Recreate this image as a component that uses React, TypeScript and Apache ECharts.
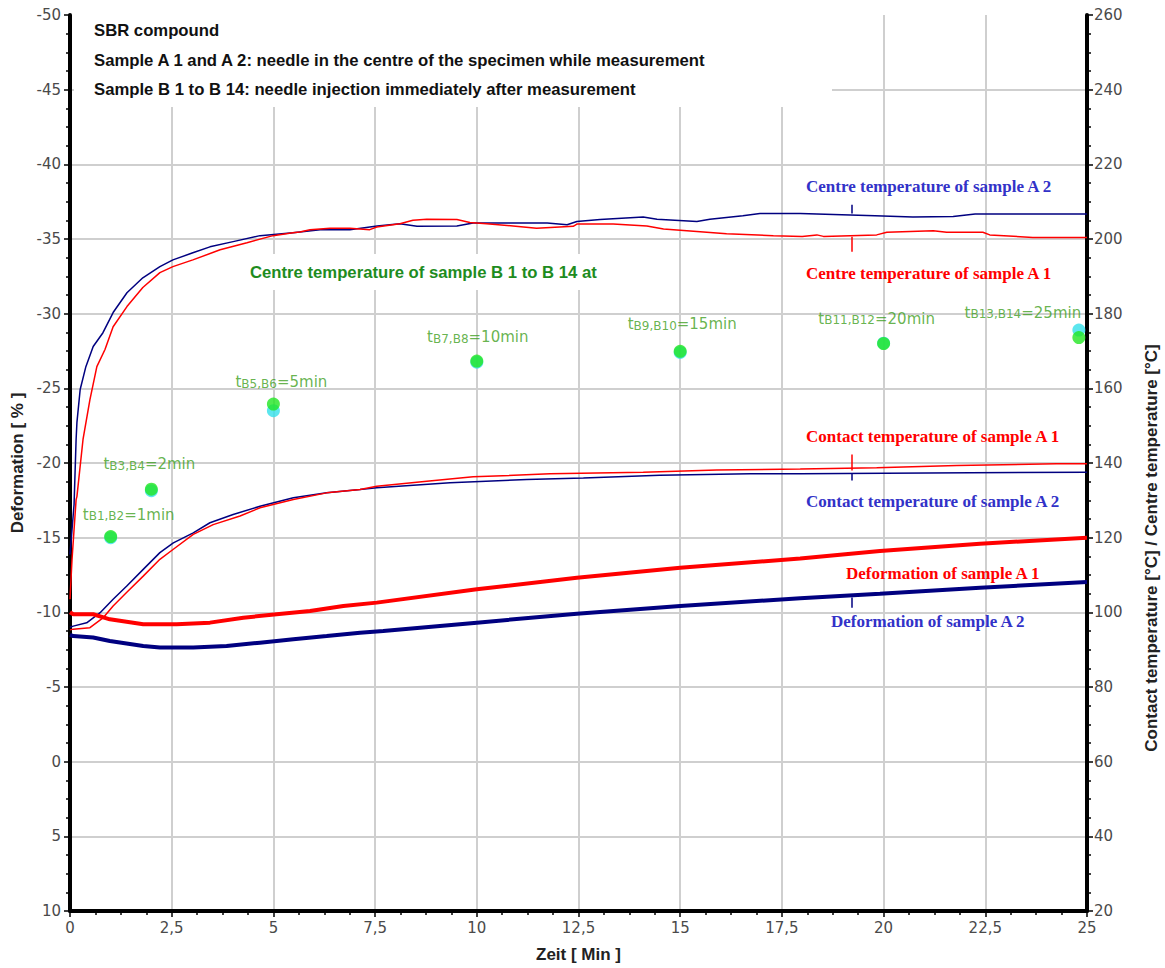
import React, { useEffect, useRef } from "react";
import * as echarts from "echarts";

// ---------- data ----------
const centreA2: [number, number][] = [
  [0, 115.5], [0.05, 122.2], [0.1, 128.9], [0.15, 146.3], [0.17, 150.8], [0.25, 159.7], [0.39, 165.8],
  [0.57, 171.2], [0.81, 174.9], [1.06, 180.3], [1.4, 185.6], [1.79, 189.6], [2.21, 192.6], [2.53, 194.4],
  [3.02, 196.3], [3.44, 197.9], [4.01, 199.3], [4.67, 200.9], [5.48, 201.7], [6.15, 202.5], [6.88, 202.5],
  [7.55, 203.5], [8.11, 204.1], [8.53, 203.4], [9.51, 203.5], [9.91, 204.3], [11.73, 204.3], [12.22, 203.8],
  [12.46, 204.7], [13.03, 205.2], [14.09, 205.9], [14.43, 205.3], [15.41, 204.7], [15.73, 205.3],
  [16.54, 206.2], [16.96, 206.8], [17.95, 206.8], [19.79, 206.2], [20.72, 205.9], [21.71, 206.0],
  [22.25, 206.7], [25, 206.7],
];
const centreA1: [number, number][] = [
  [0, 103.5], [0.05, 114.2], [0.1, 122.2], [0.15, 130.2], [0.17, 131.0], [0.32, 146.3], [0.49, 157.0],
  [0.66, 165.8], [0.86, 170.4], [1.06, 176.5], [1.4, 181.9], [1.79, 187.0], [2.21, 191.0], [2.53, 192.6],
  [3.02, 194.4], [3.69, 197.1], [4.35, 199.0], [4.99, 200.9], [5.48, 201.7], [5.65, 201.9], [5.9, 202.5],
  [6.39, 202.9], [6.88, 202.9], [7.37, 202.5], [7.54, 203.2], [8.11, 204.1], [8.43, 205.0], [8.77, 205.3],
  [9.51, 205.2], [9.83, 204.4], [10.24, 204.1], [10.89, 203.5], [11.47, 202.9], [12.37, 203.4],
  [12.46, 204.0], [13.35, 204.0], [14.18, 203.5], [14.59, 202.7], [15.41, 202.0], [16.14, 201.4],
  [17.29, 200.9], [18.0, 200.7], [18.36, 201.1], [18.52, 200.7], [19.83, 201.1], [20.08, 201.8],
  [21.22, 202.2], [21.55, 201.8], [22.44, 201.8], [22.61, 201.1], [23.67, 200.4], [25, 200.4],
];
const contactA2: [number, number][] = [
  [0, 96.0], [0.08, 96.3], [0.41, 97.2], [0.74, 99.9], [1.06, 103.5], [1.39, 107.0], [1.8, 111.5],
  [2.21, 116.0], [2.54, 118.6], [3.03, 121.3], [3.44, 124.0], [4.01, 126.2], [4.67, 128.4], [5.49, 130.7],
  [6.31, 132.0], [7.13, 132.9], [7.54, 133.4], [9.34, 134.7], [11.23, 135.6], [12.62, 136.0],
  [14.5, 136.7], [16.72, 137.1], [17.95, 137.1], [22.12, 137.4], [25, 137.5],
];
const contactA1: [number, number][] = [
  [0, 95.3], [0.08, 95.5], [0.49, 95.9], [0.82, 98.6], [1.06, 101.7], [1.39, 105.3], [1.8, 109.7],
  [2.21, 114.2], [2.54, 116.9], [3.03, 120.9], [3.52, 123.5], [4.18, 125.8], [4.67, 128.0], [5.49, 130.2],
  [6.31, 132.0], [7.13, 132.9], [7.54, 133.8], [8.77, 135.1], [9.91, 136.3], [11.8, 137.1],
  [14.09, 137.5], [15.9, 138.1], [17.95, 138.4], [19.83, 138.7], [21.8, 139.3], [24.25, 139.8], [25, 139.8],
];
const deformA1: [number, number][] = [
  [0, -10.0], [0.08, -9.87], [0.57, -9.87], [0.98, -9.53], [1.8, -9.2], [2.62, -9.2], [3.44, -9.31],
  [4.26, -9.64], [5.08, -9.87], [5.9, -10.09], [6.72, -10.42], [7.54, -10.65], [10.0, -11.54],
  [12.46, -12.32], [15.0, -12.99], [17.95, -13.6], [19.91, -14.1], [22.37, -14.6], [25, -15.0],
];
const deformA2: [number, number][] = [
  [0, -8.5], [0.08, -8.41], [0.57, -8.31], [0.98, -8.08], [1.8, -7.75], [2.21, -7.64], [3.03, -7.64],
  [3.85, -7.75], [4.67, -7.97], [5.49, -8.19], [6.31, -8.41], [7.13, -8.64], [7.7, -8.75], [10.0, -9.31],
  [12.46, -9.91], [15.0, -10.42], [17.95, -10.95], [19.91, -11.25], [22.37, -11.65], [25, -12.03],
];

const pointTimes = [1, 2, 5, 10, 15, 20, 24.8];
const pointTempsGreen = [120.3, 133.0, 155.8, 167.3, 169.9, 172.0, 173.6];
const pointTempsCyan = [120.0, 132.6, 154.0, 167.0, 169.6, 172.1, 175.6];
const pointSubs = ["B1,B2", "B3,B4", "B5,B6", "B7,B8", "B9,B10", "B11,B12", "B13,B14"];
const pointMinutes = [1, 2, 5, 10, 15, 20, 25];

// annotation tick segments [t, from, to]
const tickCentreA2 = [19.22, 209.2, 206.8];
const tickCentreA1 = [19.22, 200.6, 196.6];
const tickContactA1 = [19.22, 142.3, 138.0];
const tickContactA2 = [19.22, 137.2, 135.3];
const tickDeformA2 = [19.22, -11.0, -10.3];

// ---------- styles ----------
const labelOffsets = [[18, -3], [-2, -6], [8, -3], [1, -5], [2, -8], [-7, -6], [-56, -6]];
const RED = "#ff0000";
const NAVY = "#000080";
const TXTBLUE = "#3232c8";
const LABELGREEN = "#3f9f22";
const SANS = "Liberation Sans";
const SERIF = "Liberation Serif";

function tickLine(seg: number[], color: string) {
  return {
    silent: true,
    symbol: "none",
    label: { show: false },
    lineStyle: { color, width: 1.5, type: "solid" },
    data: [[{ coord: [seg[0], seg[1]] }, { coord: [seg[0], seg[2]] }]],
  };
}

export default function App() {
  const ref = useRef<HTMLDivElement>(null);
  useEffect(() => {
    if (!ref.current) return;
    const chart = echarts.init(ref.current, undefined, { renderer: "svg" });
    const axisLabelStyle = { color: "#4a4a4a", fontFamily: "DejaVu Sans", fontSize: 15 };
    const tickStyle = { color: "#000", width: 1.5 };
    const nameStyle = { fontFamily: SANS, fontWeight: "bold", fontSize: 17, color: "#222" };

    const green = pointTimes.map((t, i) => ({
      value: [t, pointTempsGreen[i]],
      sub: pointSubs[i],
      min: pointMinutes[i],
      label: { offset: labelOffsets[i] },
    }));
    const cyan = pointTimes.map((t, i) => [t, pointTempsCyan[i]]);

    const annText = (text: string, x: number, y: number, fill: string) => ({
      type: "text",
      x,
      y,
      z: 5,
      style: { text, fill, font: `bold 17px "${SERIF}"`, align: "left", verticalAlign: "middle" },
    });
    const headText = (text: string, x: number, y: number) => ({
      type: "text",
      x,
      y,
      z: 5,
      style: { text, fill: "#111", font: `bold 16.7px "${SANS}"`, align: "left", verticalAlign: "middle" },
    });

    chart.setOption({
      animation: false,
      backgroundColor: "#fff",
      grid: { left: 70, right: 78, top: 15, bottom: 56 },
      xAxis: {
        type: "value",
        min: 0,
        max: 25,
        interval: 2.5,
        name: "Zeit [ Min ]",
        nameLocation: "middle",
        nameGap: 35,
        nameTextStyle: nameStyle,
        axisLine: { show: true, onZero: false, lineStyle: { color: "#000", width: 4 } },
        axisTick: { show: true, length: 6, lineStyle: tickStyle },
        minorTick: { show: true, splitNumber: 4, length: 4, lineStyle: tickStyle },
        axisLabel: {
          ...axisLabelStyle,
          margin: 9,
          formatter: (v: number) => String(v).replace(".", ","),
        },
        splitLine: { show: true, showMinLine: false, showMaxLine: false, lineStyle: { color: "#cfcfcf", width: 2 } },
      },
      yAxis: [
        {
          type: "value",
          position: "left",
          min: -50,
          max: 10,
          interval: 5,
          inverse: true,
          name: "Deformation [ % ]",
          nameLocation: "middle",
          nameGap: 43,
          nameRotate: 90,
          nameTextStyle: nameStyle,
          axisLine: { show: true, onZero: false, lineStyle: { color: "#000", width: 4 } },
          axisTick: { show: true, length: 6, lineStyle: tickStyle },
          minorTick: { show: true, splitNumber: 4, length: 4, lineStyle: tickStyle },
          axisLabel: { ...axisLabelStyle, margin: 9 },
          splitLine: { show: true, showMinLine: false, showMaxLine: false, lineStyle: { color: "#cfcfcf", width: 2 } },
        },
        {
          type: "value",
          position: "right",
          min: 20,
          max: 260,
          interval: 20,
          axisLine: { show: true, onZero: false, lineStyle: { color: "#000", width: 4 } },
          axisTick: { show: true, length: 6, lineStyle: tickStyle },
          minorTick: { show: true, splitNumber: 4, length: 4, lineStyle: tickStyle },
          axisLabel: { ...axisLabelStyle, margin: 7 },
          splitLine: { show: false },
        },
      ],
      graphic: [
        { type: "rect", z: 1, shape: { x: 74, y: 0, width: 758, height: 107 }, style: { fill: "#fff" } },
        { type: "rect", z: 1, shape: { x: 246, y: 254, width: 358, height: 36 }, style: { fill: "#fff" } },
        headText("SBR compound", 94, 30),
        headText("Sample A 1 and A 2: needle in the centre of the specimen while measurement", 94, 60),
        headText("Sample B 1 to B 14: needle injection immediately after measurement", 94, 89),
        {
          type: "text",
          x: 250,
          y: 272,
          z: 5,
          style: {
            text: "Centre temperature of sample B 1 to B 14 at",
            fill: "#1e8c1e",
            font: `bold 16.7px "${SANS}"`,
            align: "left",
            verticalAlign: "middle",
          },
        },
        {
          type: "text",
          x: 1151,
          y: 548,
          rotation: Math.PI / 2,
          z: 5,
          style: {
            text: "Contact temperature [°C] / Centre temperature [°C]",
            fill: "#222",
            font: `bold 17px "${SANS}"`,
            align: "center",
            verticalAlign: "middle",
          },
        },
        annText("Centre temperature of sample A 2", 806, 186, TXTBLUE),
        annText("Centre temperature of sample A 1", 806, 273, RED),
        annText("Contact temperature of sample A 1", 806, 436, RED),
        annText("Contact temperature of sample A 2", 806, 501, TXTBLUE),
        annText("Deformation of sample A 1", 846, 573, RED),
        annText("Deformation of sample A 2", 831, 621, TXTBLUE),
      ],
      series: [
        {
          name: "Centre A2", type: "line", yAxisIndex: 1, data: centreA2, showSymbol: false,
          lineStyle: { color: NAVY, width: 1.5 }, z: 3, markLine: tickLine(tickCentreA2, NAVY),
        },
        {
          name: "Centre A1", type: "line", yAxisIndex: 1, data: centreA1, showSymbol: false,
          lineStyle: { color: RED, width: 1.5 }, z: 3, markLine: tickLine(tickCentreA1, RED),
        },
        {
          name: "Contact A2", type: "line", yAxisIndex: 1, data: contactA2, showSymbol: false,
          lineStyle: { color: NAVY, width: 1.5 }, z: 3, markLine: tickLine(tickContactA2, NAVY),
        },
        {
          name: "Contact A1", type: "line", yAxisIndex: 1, data: contactA1, showSymbol: false,
          lineStyle: { color: RED, width: 1.5 }, z: 3, markLine: tickLine(tickContactA1, RED),
        },
        {
          name: "Deformation A1", type: "line", yAxisIndex: 0, data: deformA1, showSymbol: false,
          lineStyle: { color: RED, width: 4 }, z: 4,
        },
        {
          name: "Deformation A2", type: "line", yAxisIndex: 0, data: deformA2, showSymbol: false,
          lineStyle: { color: NAVY, width: 4 }, z: 4, markLine: tickLine(tickDeformA2, NAVY),
        },
        {
          name: "B even", type: "scatter", yAxisIndex: 1, data: cyan, symbolSize: 13,
          itemStyle: { color: "#33e0ea" }, z: 5,
        },
        {
          name: "B odd", type: "scatter", yAxisIndex: 1, data: green, symbolSize: 13,
          itemStyle: { color: "#22e622" }, z: 6,
          label: {
            show: true,
            position: "top",
            distance: 5,
            formatter: (p: any) => `{t|t}{s|${p.data.sub}}{m|=${p.data.min}min}`,
            rich: {
              t: { fontFamily: "DejaVu Sans", fontSize: 15, color: LABELGREEN, lineHeight: 24, verticalAlign: "bottom" },
              s: { fontFamily: "DejaVu Sans", fontSize: 12, color: LABELGREEN, lineHeight: 12, verticalAlign: "bottom" },
              m: { fontFamily: "DejaVu Sans", fontSize: 15, color: LABELGREEN, lineHeight: 24, verticalAlign: "bottom" },
            },
          },
        },
      ],
    });
    return () => chart.dispose();
  }, []);
  return (
    <div
      ref={ref}
      style={{ position: "fixed", left: 0, top: 0, width: 1165, height: 968, background: "#fff" }}
    />
  );
}
